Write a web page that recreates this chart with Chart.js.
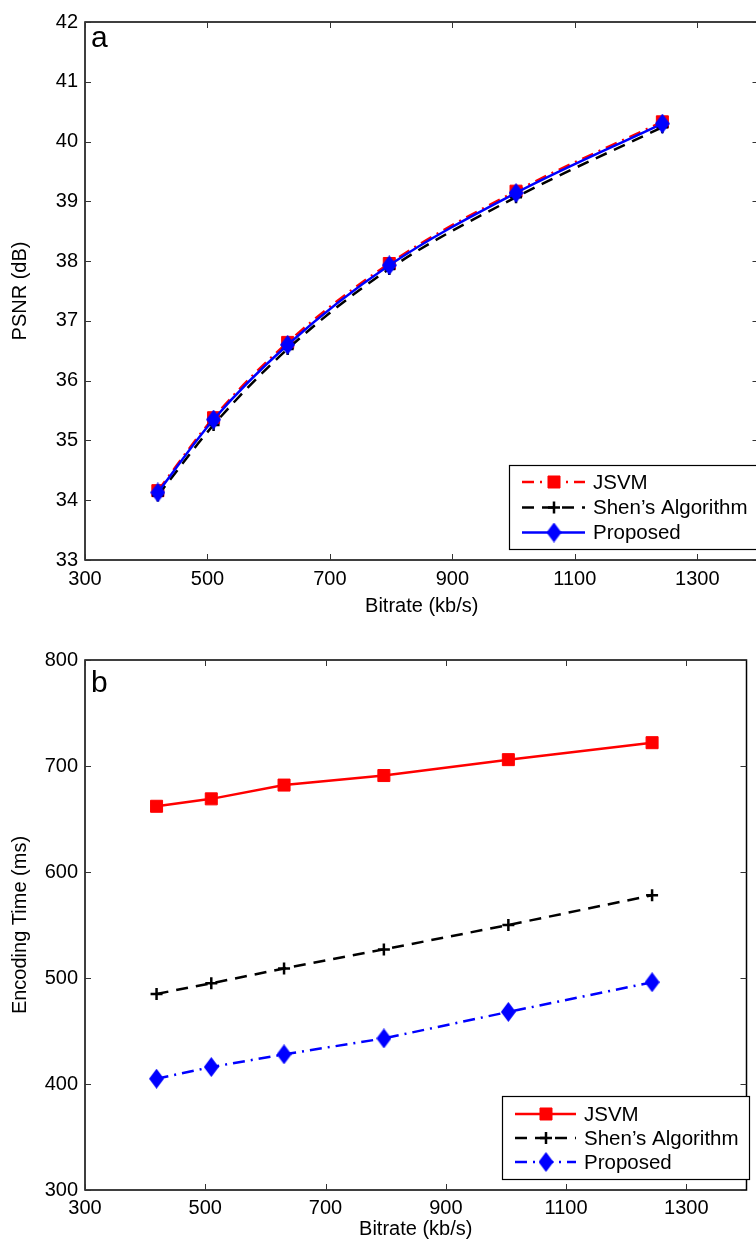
<!DOCTYPE html>
<html><head><meta charset="utf-8">
<script src="https://cdn.jsdelivr.net/npm/chart.js@4.4.1/dist/chart.umd.min.js"></script>
<style>
html,body{margin:0;padding:0;background:#fff;overflow:hidden;width:756px;height:1243px;position:relative;}
#ca{position:absolute;left:0;top:0;}
#cb{position:absolute;left:0;top:630px;}
</style></head><body>
<canvas id="ca" width="768" height="630"></canvas>
<canvas id="cb" width="756" height="613"></canvas>
<script>
// ---- data ----
const bitrates = [419, 510, 631, 797, 1004, 1243];
const psnrJSVM = [34.16, 35.38, 36.64, 37.96, 39.17, 40.33];
const psnrShen = [34.08, 35.26, 36.53, 37.87, 39.07, 40.24];
const psnrProposed = [34.13, 35.35, 36.60, 37.93, 39.14, 40.30];
const timeJSVM = [662, 669, 682, 691, 706, 722];
const timeShen = [485, 495, 509, 527, 550, 578];
const timeProposed = [405, 416, 428, 443, 468, 496];
const xTicks = [300, 500, 700, 900, 1100, 1300];
const psnrTicks = [33, 34, 35, 36, 37, 38, 39, 40, 41, 42];
const timeTicks = [300, 400, 500, 600, 700, 800];
const seriesNames = ['JSVM', 'Shen\u2019s Algorithm', 'Proposed'];

const FONT = 'Liberation Sans, Arial, Helvetica, sans-serif';

function makeDiamond(w, h, color) {
  const c = document.createElement('canvas');
  c.width = w; c.height = h;
  const g = c.getContext('2d');
  g.fillStyle = color;
  g.beginPath();
  g.moveTo(w / 2, 0); g.lineTo(w, h / 2); g.lineTo(w / 2, h); g.lineTo(0, h / 2);
  g.closePath(); g.fill();
  return c;
}
const diamond = makeDiamond(15, 20, '#0000ff');

function pts(xs, ys) { return xs.map((x, i) => ({x: x, y: ys[i]})); }

const boxPlugin = {
  id: 'matlabBox',
  afterDatasetsDraw(chart) {
    const {ctx, chartArea: a, scales} = chart;
    ctx.save();
    ctx.strokeStyle = '#000';
    ctx.lineWidth = 1.5;
    ctx.strokeRect(a.left, a.top, a.right - a.left, a.bottom - a.top);
    ctx.lineWidth = 1;
    ctx.strokeStyle = '#333';
    const L = 6;
    ctx.beginPath();
    scales.x.ticks.forEach(t => {
      const px = Math.round(scales.x.getPixelForValue(t.value)) + 0.5;
      ctx.moveTo(px, a.bottom); ctx.lineTo(px, a.bottom - L);
      ctx.moveTo(px, a.top); ctx.lineTo(px, a.top + L);
    });
    scales.y.ticks.forEach(t => {
      const py = Math.round(scales.y.getPixelForValue(t.value)) + 0.5;
      ctx.moveTo(a.left, py); ctx.lineTo(a.left + L, py);
      ctx.moveTo(a.right, py); ctx.lineTo(a.right - L, py);
    });
    ctx.stroke();
    ctx.restore();
  },
  afterDraw(chart) {
    const o = chart.options.plugins.matlabBox;
    const ctx = chart.ctx;
    ctx.save();
    ctx.fillStyle = '#000';
    ctx.font = '30px ' + FONT;
    ctx.textAlign = 'left';
    ctx.textBaseline = 'alphabetic';
    ctx.fillText(o.letter, o.letterX, o.letterY);
    const lg = o.legend;
    ctx.fillStyle = '#fff';
    ctx.fillRect(lg.x1, lg.y1, lg.x2 - lg.x1, lg.y2 - lg.y1);
    ctx.strokeStyle = '#000';
    ctx.lineWidth = 1.2;
    ctx.strokeRect(lg.x1, lg.y1, lg.x2 - lg.x1, lg.y2 - lg.y1);
    chart.data.datasets.forEach((ds, i) => {
      const y = lg.rows[i];
      ctx.save();
      ctx.strokeStyle = ds.borderColor;
      ctx.lineWidth = ds.borderWidth;
      ctx.setLineDash(ds.borderDash || []);
      ctx.beginPath();
      ctx.moveTo(lg.lx1, y); ctx.lineTo(lg.lx2, y);
      ctx.stroke();
      ctx.setLineDash([]);
      ctx.fillStyle = ds.pointBackgroundColor;
      ctx.strokeStyle = ds.pointBorderColor;
      ctx.lineWidth = ds.pointBorderWidth;
      Chart.helpers.drawPoint(ctx, {pointStyle: ds.pointStyle, radius: ds.pointRadius, borderWidth: ds.pointBorderWidth, rotation: 0}, lg.mx, y);
      ctx.restore();
      ctx.fillStyle = '#000';
      ctx.font = '20.5px ' + FONT;
      ctx.textBaseline = 'middle';
      ctx.fillText(ds.label, lg.tx, y + 1);
    });
    ctx.restore();
  }
};

function makeDatasets(a, b, c, top) {
  return [
    {label: seriesNames[0], data: pts(bitrates, a), borderColor: '#ff0000', borderWidth: 2.5,
     borderDash: top ? [12, 6, 2, 6] : [], pointStyle: 'rect', pointRadius: 8.5,
     pointBackgroundColor: '#ff0000', pointBorderColor: '#ff0000', pointBorderWidth: 1, order: 2,
     cubicInterpolationMode: top ? 'monotone' : 'default'},
    {label: seriesNames[1], data: pts(bitrates, b), borderColor: '#000000', borderWidth: 2.5,
     borderDash: [12, 8], pointStyle: 'cross', pointRadius: 6,
     pointBackgroundColor: '#000000', pointBorderColor: '#000000', pointBorderWidth: 2.5, order: 1,
     cubicInterpolationMode: top ? 'monotone' : 'default'},
    {label: seriesNames[2], data: pts(bitrates, c), borderColor: '#0000ff', borderWidth: 2.5,
     borderDash: top ? [] : [12, 6, 2, 6], pointStyle: diamond, pointRadius: 9,
     pointBackgroundColor: '#0000ff', pointBorderColor: '#0000ff', pointBorderWidth: 0, order: 0,
     cubicInterpolationMode: top ? 'monotone' : 'default'}
  ];
}

function makeOptions(cfg) {
  return {
    responsive: false,
    animation: false,
    layout: {padding: {top: cfg.padTop, right: 1, left: 0, bottom: 0}},
    plugins: {
      legend: {display: false},
      tooltip: {enabled: false},
      matlabBox: cfg.box
    },
    scales: {
      x: {
        type: 'linear', min: 300, max: 1400, position: 'bottom',
        afterBuildTicks: s => { s.ticks = xTicks.map(v => ({value: v})); },
        afterFit: s => { s.height = cfg.xHeight; },
        ticks: {font: {family: FONT, size: 20}, color: '#000', padding: cfg.xTickPad, maxRotation: 0, autoSkip: false,
                callback: v => String(v)},
        grid: {display: false, drawTicks: false},
        border: {display: false},
        title: {display: true, text: 'Bitrate (kb/s)', color: '#000', font: {family: FONT, size: 20},
                padding: {top: 0, bottom: cfg.xTitlePad}}
      },
      y: {
        type: 'linear', min: cfg.yMin, max: cfg.yMax,
        afterBuildTicks: s => { s.ticks = cfg.yTicks.map(v => ({value: v})); },
        afterFit: s => { s.width = 85; },
        ticks: {font: {family: FONT, size: 20}, color: '#000', padding: 7, autoSkip: false,
                callback: v => String(v)},
        grid: {display: false, drawTicks: false},
        border: {display: false},
        title: {display: true, text: cfg.yTitle, color: '#000', font: {family: FONT, size: 20},
                padding: {top: 8, bottom: 0}}
      }
    }
  };
}

new Chart(document.getElementById('ca'), {
  type: 'line',
  data: {datasets: makeDatasets(psnrJSVM, psnrShen, psnrProposed, true)},
  options: makeOptions({
    padTop: 22, xHeight: 70, xTickPad: 7, xTitlePad: 12, yMin: 33, yMax: 42, yTicks: psnrTicks, yTitle: 'PSNR (dB)',
    box: {letter: 'a', letterX: 91, letterY: 47,
          legend: {x1: 509.5, y1: 465.5, x2: 780, y2: 549.5, rows: [482, 507.5, 532.5], lx1: 522, lx2: 585, mx: 554, tx: 593}}
  }),
  plugins: [boxPlugin]
});

new Chart(document.getElementById('cb'), {
  type: 'line',
  data: {datasets: makeDatasets(timeJSVM, timeShen, timeProposed, false)},
  options: makeOptions({
    padTop: 30, xHeight: 53, xTickPad: 6, xTitlePad: 2, yMin: 300, yMax: 800, yTicks: timeTicks, yTitle: 'Encoding Time (ms)',
    box: {letter: 'b', letterX: 91, letterY: 62,
          legend: {x1: 502.5, y1: 466.5, x2: 749.5, y2: 549.5, rows: [484, 508, 532], lx1: 515, lx2: 576, mx: 546, tx: 584}}
  }),
  plugins: [boxPlugin]
});
</script>
</body></html>
